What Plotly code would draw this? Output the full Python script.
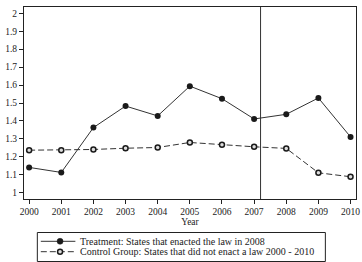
import plotly.graph_objects as go

years = [2000, 2001, 2002, 2003, 2004, 2005, 2006, 2007, 2008, 2009, 2010]
treatment = [1.141, 1.113, 1.363, 1.483, 1.428, 1.594, 1.524, 1.411, 1.437, 1.528, 1.311]
control = [1.237, 1.237, 1.241, 1.248, 1.252, 1.280, 1.267, 1.256, 1.247, 1.111, 1.089]
y_ticks = [1, 1.1, 1.2, 1.3, 1.4, 1.5, 1.6, 1.7, 1.8, 1.9, 2]
y_tick_labels = ["1", "1.1", "1.2", "1.3", "1.4", "1.5", "1.6", "1.7", "1.8", "1.9", "2"]
policy_line_x = 2007.2
treat_name = "Treatment: States that enacted the law in 2008"
control_name = "Control Group: States that did not enact a law 2000 - 2010"

FONT = "Liberation Serif, Times New Roman, Times, serif"
INK = "#222222"
LINE = "#333333"
DASH = "6px,3px"

W, H = 362, 262
ML, MR, MT, MB = 24, 2, 7, 63
PW, PH = W - ML - MR, H - MT - MB


def px_x(px):
    return (px - ML) / PW


def px_y(py):
    return (H - MB - py) / PH


fig = go.Figure()
fig.add_trace(go.Scatter(
    x=years, y=treatment, name=treat_name, mode="lines+markers",
    line=dict(color=LINE, width=1),
    marker=dict(symbol="circle", size=6, color="#1a1a1a"),
))
fig.add_trace(go.Scatter(
    x=years, y=control, name=control_name, mode="lines+markers",
    line=dict(color=LINE, width=1, dash=DASH),
    marker=dict(symbol="circle", size=5, color="#dddddd", line=dict(color="#1a1a1a", width=1.5)),
))
fig.add_shape(type="line", xref="x", yref="paper", x0=policy_line_x, x1=policy_line_x,
              y0=0, y1=1, line=dict(color=LINE, width=1))

# Compact legend box (drawn as layout decoration)
shapes = []
annotations = []
shapes.append(dict(type="rect", xref="paper", yref="paper",
                   x0=px_x(37.5), x1=px_x(329), y0=px_y(232.5), y1=px_y(261.5),
                   line=dict(color=INK, width=1), fillcolor="white", layer="above"))
rows = [
    (241.3, treat_name, "solid", dict(fill="#1a1a1a", r=3, lw=0.5)),
    (251.7, control_name, DASH, dict(fill="#dddddd", r=2.5, lw=1.5)),
]
for py, name, dash, mk in rows:
    shapes.append(dict(type="line", xref="paper", yref="paper",
                       x0=px_x(41), x1=px_x(76), y0=px_y(py), y1=px_y(py),
                       line=dict(color=LINE, width=1, dash=dash), layer="above"))
    r = mk["r"]
    shapes.append(dict(type="circle", xref="paper", yref="paper",
                       xsizemode="pixel", ysizemode="pixel",
                       xanchor=px_x(60.5), yanchor=px_y(py),
                       x0=-r, x1=r, y0=-r, y1=r,
                       fillcolor=mk["fill"],
                       line=dict(color="#1a1a1a", width=mk["lw"]),
                       layer="above"))
    annotations.append(dict(xref="paper", yref="paper", x=px_x(79), y=px_y(py),
                            xanchor="left", yanchor="middle", text=name, showarrow=False,
                            font=dict(family=FONT, size=10, color=INK)))

fig.update_layout(
    width=W, height=H,
    margin=dict(l=ML, r=MR, t=MT, b=MB),
    paper_bgcolor="white", plot_bgcolor="white",
    font=dict(family=FONT, size=9.5, color=INK),
    showlegend=False,
    shapes=fig.layout.shapes + tuple(shapes),
    annotations=annotations,
    xaxis=dict(
        range=[1999.84, 2010.17], tickmode="array", tickvals=years,
        ticktext=[str(y) for y in years],
        showgrid=False, zeroline=False, showline=True, linecolor=INK, linewidth=1,
        mirror=True, ticks="outside", ticklen=4, tickcolor=INK,
        ticklabeloverflow="allow",
        title=dict(text="Year", font=dict(family=FONT, size=9.5), standoff=0),
        tickfont=dict(family=FONT, size=9.5),
    ),
    yaxis=dict(
        range=[0.965, 2.035], tickmode="array", tickvals=y_ticks, ticktext=y_tick_labels,
        showgrid=False, zeroline=False, showline=True, linecolor=INK, linewidth=1,
        mirror=True, ticks="outside", ticklen=4, tickcolor=INK,
        tickfont=dict(family=FONT, size=9.5),
    ),
)

fig.write_html("out.html", config={"displayModeBar": False},
               post_script="document.body.style.margin='0';")
